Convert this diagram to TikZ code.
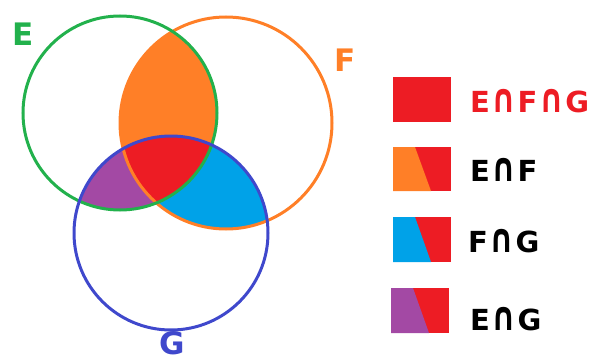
\documentclass[tikz,border=0pt]{standalone}
\usepackage{fontspec}
\usepackage{graphicx}
\setmainfont{DejaVu Sans}
\definecolor{cgreen}{HTML}{22B14C}
\definecolor{corange}{HTML}{FF7F27}
\definecolor{cblue}{HTML}{3F48CC}
\definecolor{cred}{HTML}{ED1C24}
\definecolor{ccyan}{HTML}{00A2E8}
\definecolor{cpurple}{HTML}{A349A4}
\newcommand{\capcap}{\kern1.5pt\scalebox{1.05}[1.38]{∩}\kern1.5pt}
\tikzset{
  ring/.style={line width=3pt},
  setlabel/.style={font=\bfseries\fontsize{31}{31}\selectfont, inner sep=0pt},
  legtext/.style={font=\bfseries\fontsize{29}{29}\selectfont, inner sep=0pt, anchor=west},
}
\begin{document}
\begin{tikzpicture}[x=1pt,y=-1pt]
\useasboundingbox (0,0) rectangle (610,361);
\coordinate (cE) at (120,113);
\coordinate (cF) at (226,123);
\coordinate (cG) at (171,233);
\def\rE{97pt}\def\rF{106pt}\def\rG{97pt}
% E cap F
\begin{scope}
\clip (cE) circle (\rE);
\fill[corange] (cF) circle (\rF);
\end{scope}
% E cap G
\begin{scope}
\clip (cE) circle (\rE);
\fill[cpurple] (cG) circle (\rG);
\end{scope}
% F cap G
\begin{scope}
\clip (cF) circle (\rF);
\fill[ccyan] (cG) circle (\rG);
\end{scope}
% E cap F cap G
\begin{scope}
\clip (cE) circle (\rE);
\clip (cF) circle (\rF);
\fill[cred] (cG) circle (\rG);
\end{scope}
\draw[ring, corange] (cF) circle (\rF);
\draw[ring, cgreen] (cE) circle (\rE);
\draw[ring, cblue] (cG) circle (\rG);
\node[setlabel, text=cgreen] (lE) at (23,34) {E};
\node[setlabel, text=corange] (lF) at (345,60) {F};
\node[setlabel, text=cblue] (lG) at (172,343) {G};
% legend
\fill[cred] (393,77) rectangle (451,122);
\fill[cred] (393,147) rectangle (451,191);
\fill[corange] (393,147) -- (415,147) -- (431,191) -- (393,191) -- cycle;
\fill[cred] (393,217) rectangle (451,262);
\fill[ccyan] (393,217) -- (415,217) -- (431,262) -- (393,262) -- cycle;
\fill[cred] (391,288) rectangle (449,333);
\fill[cpurple] (391,288) -- (413,288) -- (429,333) -- (391,333) -- cycle;
\node[legtext, text=cred] (t1) at (470,101) {E\capcap F\capcap G};
\node[legtext] (t2) at (470,170) {E\capcap F};
\node[legtext] (t3) at (468,241) {F\capcap G};
\node[legtext] (t4) at (470,319) {E\capcap G};
\end{tikzpicture}
\end{document}
